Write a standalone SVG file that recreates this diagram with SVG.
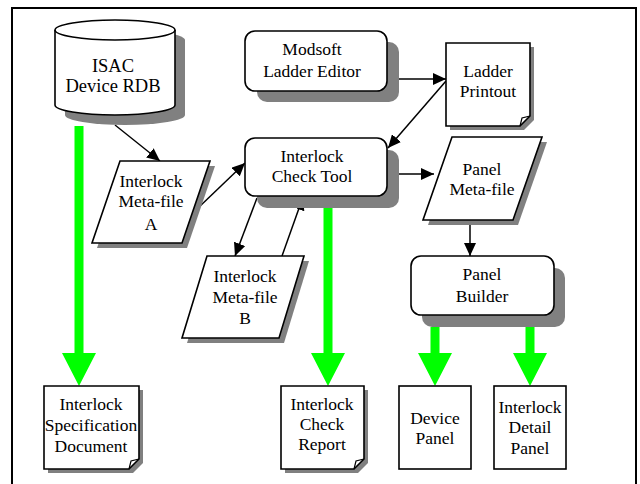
<svg xmlns="http://www.w3.org/2000/svg" width="640" height="484" viewBox="0 0 640 484">
<style>
.sh{fill:#808080;stroke:none}
.nd{fill:#fff;stroke:#000;stroke-width:1.6}
.c{stroke:#000;stroke-width:1.5;fill:none;marker-end:url(#ah)}
.g{fill:#00ff00;stroke:none}
</style>
<defs>
<marker id="ah" markerUnits="userSpaceOnUse" markerWidth="14" markerHeight="12" refX="13" refY="6" orient="auto">
<path d="M0,0 L13,6 L0,12 Z" fill="#000"/>
</marker>
</defs>
<rect x="0" y="0" width="640" height="484" fill="#fff"/>
<path d="M12,490 V8 H636 V490" fill="none" stroke="#000" stroke-width="2"/>

<g id="connectors">
<line class="c" x1="115" y1="125" x2="160" y2="161"/>
<line class="c" x1="399" y1="79" x2="446" y2="79"/>
<line class="c" x1="446" y1="81" x2="388" y2="148"/>
<line class="c" x1="198" y1="208" x2="245" y2="163"/>
<line class="c" x1="387" y1="174" x2="434" y2="174"/>
<line class="c" x1="257" y1="198" x2="235" y2="256"/>
<line class="c" x1="282" y1="256" x2="303" y2="197"/>
<line class="c" x1="470" y1="220" x2="470" y2="256"/>
<path class="g" d="M74.5,126 H83.5 V353 H96 L79,386 L62,353 H74.5 Z"/>
<path class="g" d="M323.5,208 H332.5 V353 H345 L328,386 L311,353 H323.5 Z"/>
<path class="g" d="M430.5,327 H439.5 V353 H452 L435,386 L418,353 H430.5 Z"/>
<path class="g" d="M525.5,327 H534.5 V353 H547 L530,386 L513,353 H525.5 Z"/>
</g>

<g font-family="Liberation Serif, Times New Roman, serif" font-size="17.5" text-anchor="middle" fill="#000">

<g id="rdb">
<path class="sh" d="M65,40 A60,10 0 0,1 185,40 V115 A60,10 0 0,1 65,115 Z"/>
<path class="nd" d="M55,30 A60,10 0 0,1 175,30 V105 A60,10 0 0,1 55,105 Z"/>
<path d="M55,30 A60,10 0 0,0 175,30" fill="none" stroke="#000" stroke-width="1.6"/>
<text x="113" y="72" font-size="18.5">ISAC</text>
<text x="113" y="92" font-size="18.5">Device RDB</text>
</g>

<g id="modsoft">
<rect class="sh" x="257" y="42" width="142" height="60" rx="10"/>
<rect class="nd" x="245" y="31" width="142" height="60" rx="10"/>
<text x="312" y="55">Modsoft</text>
<text x="312" y="77">Ladder Editor</text>
</g>

<g id="ladder">
<path class="sh" d="M450,47 H534 V120 L524,130 H450 Z"/>
<path class="nd" d="M446,43 H530 V116 L520,126 H446 Z"/>
<path d="M530,116 L522,118 L520,126" fill="none" stroke="#000" stroke-width="1.2"/>
<text x="488" y="77">Ladder</text>
<text x="488" y="97">Printout</text>
</g>

<g id="checktool">
<rect class="sh" x="257" y="150" width="142" height="58" rx="10"/>
<rect class="nd" x="245" y="138" width="142" height="58" rx="10"/>
<text x="312" y="162">Interlock</text>
<text x="312" y="182">Check Tool</text>
</g>

<g id="panelmeta">
<path class="sh" d="M457,142 H547 L518,225 H428 Z"/>
<path class="nd" d="M452,137 H542 L513,220 H423 Z"/>
<text x="482" y="175">Panel</text>
<text x="482" y="195">Meta-file</text>
</g>

<g id="metaA">
<path class="sh" d="M125,166 H215 L187,248 H97 Z"/>
<path class="nd" d="M120,161 H210 L182,243 H92 Z"/>
<text x="151" y="187">Interlock</text>
<text x="151" y="207">Meta-file</text>
<text x="151" y="230">A</text>
</g>

<g id="metaB">
<path class="sh" d="M212,261 H309 L284,343 H187 Z"/>
<path class="nd" d="M207,256 H304 L279,338 H182 Z"/>
<text x="245" y="282">Interlock</text>
<text x="245" y="303">Meta-file</text>
<text x="245" y="324">B</text>
</g>

<g id="panelbuilder">
<rect class="sh" x="422" y="268" width="143" height="59" rx="10"/>
<rect class="nd" x="411" y="256" width="143" height="59" rx="10"/>
<text x="482" y="280">Panel</text>
<text x="482" y="302">Builder</text>
</g>

<g id="specdoc">
<path class="sh" d="M48,390 H143 V463 L133,473 H48 Z"/>
<path class="nd" d="M44,386 H139 V459 L129,469 H44 Z"/>
<path d="M139,459 L131,461 L129,469" fill="none" stroke="#000" stroke-width="1.2"/>
<text x="91" y="410">Interlock</text>
<text x="91" y="431">Specification</text>
<text x="91" y="452">Document</text>
</g>

<g id="report">
<path class="sh" d="M285,390 H368 V463 L358,473 H285 Z"/>
<path class="nd" d="M281,386 H364 V459 L354,469 H281 Z"/>
<path d="M364,459 L356,461 L354,469" fill="none" stroke="#000" stroke-width="1.2"/>
<text x="322" y="410">Interlock</text>
<text x="322" y="430">Check</text>
<text x="322" y="450">Report</text>
</g>

<g id="devicepanel">
<rect class="nd" x="399" y="386" width="72" height="83"/>
<text x="435" y="424">Device</text>
<text x="435" y="444">Panel</text>
</g>

<g id="detailpanel">
<rect class="nd" x="494" y="386" width="72" height="83"/>
<text x="530" y="413">Interlock</text>
<text x="530" y="433">Detail</text>
<text x="530" y="454">Panel</text>
</g>

</g>
</svg>
